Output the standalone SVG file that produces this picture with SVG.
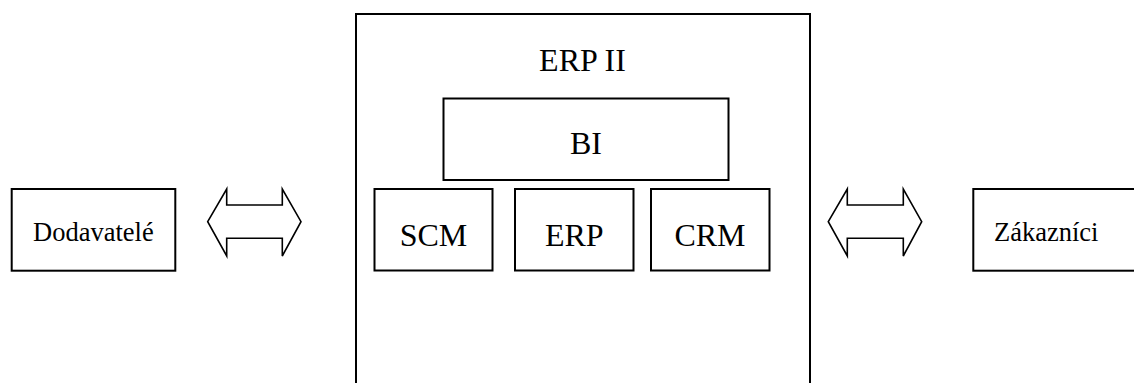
<svg xmlns="http://www.w3.org/2000/svg" width="1134" height="383" viewBox="0 0 1134 383">
<style>
.box{fill:#fff;stroke:#000;stroke-width:2}
.arr{fill:#fff;stroke:#000;stroke-width:1.6;stroke-linejoin:miter}
text{font-family:'Liberation Serif','Times New Roman',serif;fill:#000}
.big{font-size:32px;text-anchor:middle}
.sm{font-size:26.5px}
</style>
<rect width="1134" height="383" fill="#fff"/>
<g id="erp2">
<rect class="box" x="356" y="14" width="454" height="380"/>
<text class="big" x="582.5" y="71">ERP II</text>
</g>
<g id="bi">
<rect class="box" x="443.5" y="98.5" width="285" height="81.5"/>
<text class="big" x="586" y="154">BI</text>
</g>
<g id="scm">
<rect class="box" x="374.5" y="189" width="118" height="81.5"/>
<text class="big" x="433.5" y="245.7">SCM</text>
</g>
<g id="erp">
<rect class="box" x="515" y="189" width="118.5" height="81.5"/>
<text class="big" x="574.3" y="245.7">ERP</text>
</g>
<g id="crm">
<rect class="box" x="651" y="189" width="118.5" height="81.5"/>
<text class="big" x="710" y="245.7">CRM</text>
</g>
<g id="dodavatele">
<rect class="box" x="11.7" y="189" width="163.6" height="81.7"/>
<text class="sm" x="33" y="240.7">Dodavatelé</text>
</g>
<g id="zakaznici">
<rect class="box" x="973.3" y="189" width="170" height="81.7"/>
<text class="sm" x="994" y="240.7">Zákazníci</text>
</g>
<g id="connectors">
<polygon class="arr" points="207.7,221.7 226.7,189 226.7,205 282.3,205 282.3,189 301,221.7 282.3,256 282.3,238.3 226.7,238.3 226.7,256"/>
<polygon class="arr" points="828.3,221.7 847.3,189 847.3,205 903.3,205 903.3,189 921.7,221.7 903.3,256 903.3,238.3 847.3,238.3 847.3,256"/>
</g>
</svg>
